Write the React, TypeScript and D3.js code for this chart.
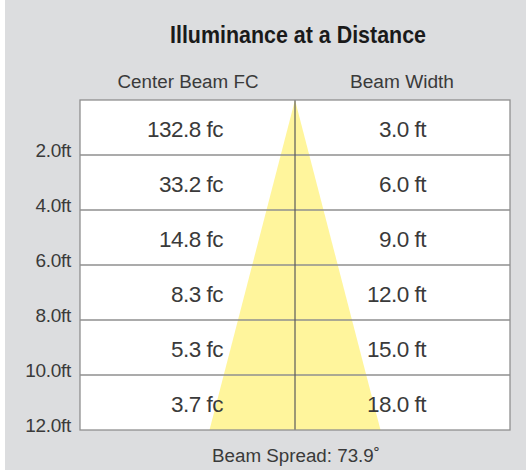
import React from "react";
import * as d3 from "d3";

const title = "Illuminance at a Distance";
const columnHeaders = ["Center Beam FC", "Beam Width"];
const distances = [2, 4, 6, 8, 10, 12];
const distanceLabels = ["2.0ft", "4.0ft", "6.0ft", "8.0ft", "10.0ft", "12.0ft"];
const centerBeamFC = ["132.8 fc", "33.2 fc", "14.8 fc", "8.3 fc", "5.3 fc", "3.7 fc"];
const beamWidths = [3.0, 6.0, 9.0, 12.0, 15.0, 18.0];
const beamWidthLabels = ["3.0 ft", "6.0 ft", "9.0 ft", "12.0 ft", "15.0 ft", "18.0 ft"];
const beamSpread = "Beam Spread: 73.9˚";

const W = 526;
const H = 470;
const tableLeft = 80;
const tableRight = 510;
const tableTop = 100;
const tableBottom = 430;
const centerX = (tableLeft + tableRight) / 2;
const maxWidth = d3.max(beamWidths) as number;

export default function App() {
  const y = d3.scaleLinear().domain([0, 12]).range([tableTop, tableBottom]);
  const x = d3
    .scaleLinear()
    .domain([-maxWidth / 2, maxWidth / 2])
    .range([centerX - 85.5, centerX + 85.5]);

  const lastD = distances[distances.length - 1];
  const lastW = beamWidths[beamWidths.length - 1];
  const beamPts: [number, number][] = [
    [x(0), y(0)],
    [x(lastW / 2), y(lastD)],
    [x(-lastW / 2), y(lastD)],
  ];
  const beamPath = d3.line()(beamPts) + "Z";

  const font = "'Liberation Sans', Arial, Helvetica, sans-serif";
  const textColor = "#3a3a3a";
  const gridColor = "#8f8f8f";

  return (
    <svg
      width={W}
      height={H}
      style={{ position: "absolute", left: 0, top: 0, display: "block" }}
    >
      <rect x={0} y={0} width={W} height={H} fill="#ffffff" />
      <rect x={5} y={0} width={W - 5} height={H} fill="#dcdddf" />
      <text
        x={298}
        y={43}
        textAnchor="middle"
        fontFamily={font}
        fontWeight="bold"
        fontSize={24}
        fill="#1a1a1a"
        textLength={256}
        lengthAdjust="spacingAndGlyphs"
      >
        {title}
      </text>
      <text x={188} y={88} textAnchor="middle" fontFamily={font} fontSize={18} fill={textColor} textLength={141} lengthAdjust="spacingAndGlyphs">
        {columnHeaders[0]}
      </text>
      <text x={402} y={88} textAnchor="middle" fontFamily={font} fontSize={18} fill={textColor} textLength={104} lengthAdjust="spacingAndGlyphs">
        {columnHeaders[1]}
      </text>
      <rect
        x={tableLeft}
        y={tableTop}
        width={tableRight - tableLeft}
        height={tableBottom - tableTop}
        fill="#ffffff"
      />
      <path d={beamPath} fill="#fff59c" />
      {distances.slice(0, -1).map((d) => (
        <line
          key={"h" + d}
          x1={tableLeft}
          x2={tableRight}
          y1={y(d)}
          y2={y(d)}
          stroke={gridColor}
          strokeWidth={1.3}
        />
      ))}
      <line x1={centerX} x2={centerX} y1={tableTop} y2={tableBottom} stroke="#5a5a5a" strokeWidth={1.2} />
      <rect
        x={tableLeft}
        y={tableTop}
        width={tableRight - tableLeft}
        height={tableBottom - tableTop}
        fill="none"
        stroke={gridColor}
        strokeWidth={1.3}
      />
      {distances.map((d, i) => {
        const top = i === 0 ? 0 : distances[i - 1];
        const baseline = y(top) + 37;
        return (
          <g key={"r" + d}>
            <text x={223} y={baseline} textAnchor="end" fontFamily={font} fontSize={22.5} fill={textColor} letterSpacing={-0.5}>
              {centerBeamFC[i]}
            </text>
            <text x={426} y={baseline} textAnchor="end" fontFamily={font} fontSize={22.5} fill={textColor} letterSpacing={-0.5}>
              {beamWidthLabels[i]}
            </text>
            <text x={71} y={y(d) + 1.5} textAnchor="end" fontFamily={font} fontSize={19} fill={textColor} letterSpacing={-0.3}>
              {distanceLabels[i]}
            </text>
          </g>
        );
      })}
      <text x={296} y={462} textAnchor="middle" fontFamily={font} fontSize={18} fill={textColor} textLength={168} lengthAdjust="spacingAndGlyphs">
        {beamSpread}
      </text>
    </svg>
  );
}
